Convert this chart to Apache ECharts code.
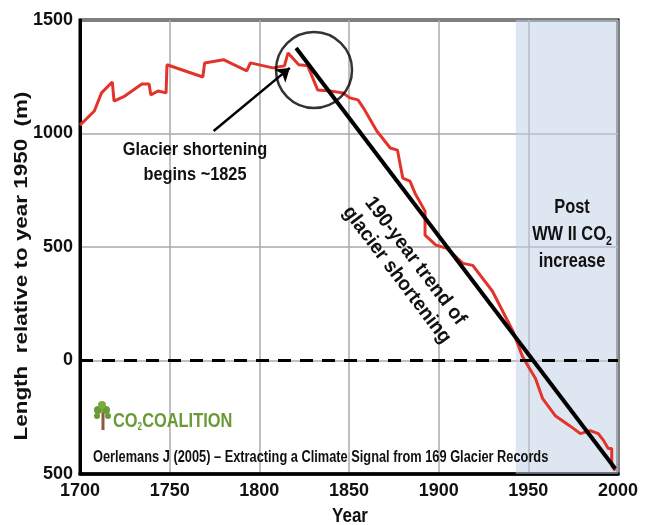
<!DOCTYPE html>
<html><head><meta charset="utf-8">
<script src="https://cdn.jsdelivr.net/npm/echarts@6/dist/echarts.min.js"></script>
<style>html,body{margin:0;padding:0;background:#fff}#c{width:652px;height:525px}</style>
</head><body><div id="c"></div>
<script>
const years = [1700,1708,1712,1718,1719,1725,1734.5,1738.5,1739.5,1743.5,1748,1748.5,1768.5,1769.5,1780,1793,1795,1807.5,1814,1816,1822,1827,1832.5,1839.5,1846.5,1850.5,1855,1858,1865.5,1873,1877,1880,1884,1886.8,1892.4,1892.4,1898.5,1904.5,1913.5,1919,1930,1941.5,1946.5,1948,1954,1958,1965,1973,1979,1984.5,1989,1992,1994.5,1996.5,1996.5,1998.5];
const lengths = [1037,1099,1179,1227,1143,1165,1218,1218,1170,1187,1179,1303,1249,1311,1325,1276,1311,1289,1298,1355,1303,1298,1192,1187,1179,1157,1148,1113,1011,936,927,803,790,737,658,552,508,494,428,419,305,128,22,0,-79,-168,-243,-287,-322,-309,-322,-353,-388,-388,-463,-485];
const trendYears = [1820.5, 1998.5];
const trendValues = [1377, -477];
const circleCenter = [1830.5, 1280];
const arrowFrom = [1774.5, 1011];
const arrowTo = [1817, 1289];
const shadeRange = [1943, 2000];
const xTicks = [1700,1750,1800,1850,1900,1950,2000];
const yTickValues = [-500,0,500,1000,1500];
const yTickLabels = ['500','0','500','1000','1500'];

const FONT = "'Liberation Sans',Arial,sans-serif";

const chart = echarts.init(document.getElementById('c'), null, {renderer:'canvas'});
const option = {
  animation:false,
  backgroundColor:'#fff',
  grid:{left:80,right:34,top:20,bottom:51,show:true,borderColor:'#000',borderWidth:3,backgroundColor:'transparent'},
  xAxis:{type:'value',min:1700,max:2000,interval:50,
    axisLine:{show:true,onZero:false,lineStyle:{color:'#000',width:3.5}},axisTick:{show:false},
    axisLabel:{color:'#111',fontFamily:FONT,fontWeight:'bold',fontSize:18,margin:8,
      formatter:v=>xTicks.includes(v)?String(v):''},
    splitLine:{show:true,lineStyle:{color:'#aaa',width:1.5}}},
  yAxis:{type:'value',min:-500,max:1500,interval:500,
    axisLine:{show:true,onZero:false,lineStyle:{color:'#000',width:3}},axisTick:{show:false},
    axisLabel:{color:'#111',fontFamily:FONT,fontWeight:'bold',fontSize:18,margin:7,
      formatter:v=>{const i=yTickValues.indexOf(v);return i>=0?yTickLabels[i]:'';}},
    splitLine:{show:true,lineStyle:{color:'#aaa',width:1.5}}},
  series:[
    {type:'line',name:'shade',data:[],silent:true,
      markArea:{silent:true,itemStyle:{color:'rgba(190,205,230,0.5)'},data:[[{xAxis:shadeRange[0]},{xAxis:shadeRange[1]}]]},
      markLine:{silent:true,symbol:'none',label:{show:false},lineStyle:{color:'#000',width:3,type:[13,9]},data:[{yAxis:0}]}
    },
    {type:'line',name:'length',data:years.map((y,i)=>[y,lengths[i]]),showSymbol:false,symbol:'none',
      lineStyle:{color:'#e3342c',width:3},z:3},
    {type:'line',name:'trend',data:trendYears.map((y,i)=>[y,trendValues[i]]),showSymbol:false,symbol:'none',
      lineStyle:{color:'#000',width:4},z:4},
    {type:'scatter',data:[circleCenter],symbolSize:76,z:5,
      itemStyle:{color:'rgba(0,0,0,0)',borderColor:'#000',borderWidth:2.5}},
    {type:'lines',coordinateSystem:'cartesian2d',z:5,symbol:['none','arrow'],symbolSize:13,
      lineStyle:{color:'#000',width:2.5,opacity:1},data:[{coords:[arrowFrom,arrowTo]}]}
  ],
  graphic:[
    {type:'text',x:22,y:266,rotation:Math.PI/2,scaleX:1.18,style:{text:'Length  relative to year 1950  (m)',font:"bold 19px "+FONT,fill:'#111',align:'center',verticalAlign:'middle'}},
    {type:'text',x:350,y:516,scaleX:0.85,style:{text:'Year',font:"bold 20px "+FONT,fill:'#111',align:'center',verticalAlign:'middle'}},
    {type:'text',x:195,y:162,z:10,scaleX:0.86,style:{text:'Glacier shortening\nbegins ~1825',font:"bold 19px "+FONT,lineHeight:25,fill:'#111',align:'center',verticalAlign:'middle'}},
    {type:'text',x:406,y:268,z:10,rotation:-53*Math.PI/180,scaleX:0.96,style:{text:'190-year trend of\nglacier shortening',font:"bold 20px "+FONT,lineHeight:23,fill:'#111',align:'center',verticalAlign:'middle'}},
    {type:'text',x:572,y:234,z:10,scaleX:0.82,style:{text:'{a|Post}\n{a|WW II CO}{s|2}\n{a|increase}',align:'center',verticalAlign:'middle',
      rich:{a:{font:"bold 20px "+FONT,fill:'#111',lineHeight:27,align:'center'},s:{font:"bold 13px "+FONT,fill:'#111',lineHeight:15,verticalAlign:'bottom'}}}},
    {type:'text',x:93,y:458,z:10,scaleX:0.80,style:{text:'Oerlemans J (2005) \u2013 Extracting a Climate Signal from 169 Glacier Records',font:"bold 16px "+FONT,fill:'#111',align:'left',verticalAlign:'middle'}},
    {type:'text',x:113,y:421,z:10,scaleX:0.82,style:{text:'{c|CO}{s|2}{c|COALITION}',align:'left',verticalAlign:'middle',
      rich:{c:{font:"bold 20px "+FONT,fill:'#6a9a35',lineHeight:22},s:{font:"bold 10px "+FONT,fill:'#6a9a35',lineHeight:12,verticalAlign:'bottom'}}}},
    {type:'rect',z:10,shape:{x:101.5,y:412,width:3,height:18},style:{fill:'#8a5a3a'}},
    {type:'circle',z:10,shape:{cx:98,cy:410,r:4},style:{fill:'#6a9a35'}},
    {type:'circle',z:10,shape:{cx:106,cy:410,r:4},style:{fill:'#6a9a35'}},
    {type:'circle',z:10,shape:{cx:102,cy:405,r:4},style:{fill:'#7aaa40'}},
    {type:'circle',z:10,shape:{cx:97,cy:416,r:3},style:{fill:'#6a9a35'}},
    {type:'circle',z:10,shape:{cx:108,cy:416,r:3},style:{fill:'#6a9a35'}}
  ]
};
chart.setOption(option);
</script></body></html>
